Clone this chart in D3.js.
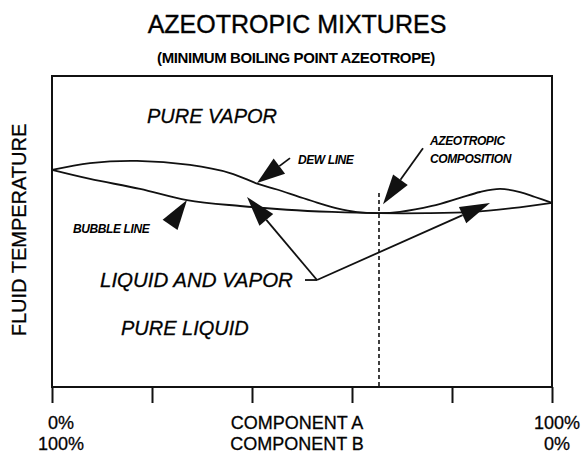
<!DOCTYPE html>
<html>
<head>
<meta charset="utf-8">
<script src="https://cdn.jsdelivr.net/npm/d3@7"></script>
<style>
  body { margin: 0; background: #fff; }
  svg { font-family: "Liberation Sans", Arial, Helvetica, sans-serif; }
</style>
</head>
<body>
<svg></svg>
<script>
let width = 585;
let height = 455;
let margin = {top: 76, right: 33, bottom: 68, left: 52};

// composition of component A (%) vs fluid temperature (arbitrary 0-100)
let dewX = [0, 7.6, 17, 27.6, 35.6, 41.2, 45, 49, 53, 57, 61, 65.4, 69.6, 76, 81.6, 85.6, 89.6, 93.6, 96.6, 100];
let dewT = [69.8, 72.0, 72.7, 71.4, 68.8, 65.3, 63.5, 61.4, 59.3, 57.4, 56.2, 55.9, 56.3, 58.2, 60.8, 62.7, 63.7, 62.7, 61.1, 59.2];
let bubbleX = [0, 7.6, 17.6, 27, 37.6, 47, 56, 65.4, 75, 84, 92, 100];
let bubbleT = [69.8, 66.9, 63.7, 60.1, 58.2, 57.0, 56.3, 55.9, 55.9, 56.3, 57.5, 59.2];
let azeotropeX = 65.4;
let azeotropeTop = 62.4;
let tickValues = [0, 20, 40, 60, 80, 100];

let svg = d3.select("svg")
            .attr("width", width)
            .attr("height", height);

let xScale = d3.scaleLinear()
               .domain([0, 100])
               .range([margin.left, width - margin.right]);

let yScale = d3.scaleLinear()
               .domain([0, 100])
               .range([height - margin.bottom, margin.top]);

// titles
svg.append("text")
   .attr("x", 297).attr("y", 33)
   .attr("text-anchor", "middle")
   .style("font-size", "25px")
   .attr("stroke", "#111").attr("stroke-width", 0.4)
   .text("AZEOTROPIC MIXTURES");

svg.append("text")
   .attr("x", 296).attr("y", 63)
   .attr("text-anchor", "middle")
   .style("font-size", "15px")
   .style("font-weight", "bold")
   .style("letter-spacing", "-0.4px")
   .text("(MINIMUM BOILING POINT AZEOTROPE)");

// frame
svg.append("rect")
   .attr("x", xScale(0)).attr("y", yScale(100))
   .attr("width", xScale(100) - xScale(0))
   .attr("height", yScale(0) - yScale(100))
   .attr("fill", "none")
   .attr("stroke", "#111")
   .attr("stroke-width", 2);

let xAxis = svg.append("g")
   .attr("transform", "translate(0," + yScale(0) + ")")
   .call(d3.axisBottom(xScale).tickValues(tickValues).tickSize(16).tickFormat(""));
xAxis.select(".domain").remove();
xAxis.selectAll("line").attr("stroke", "#111").attr("stroke-width", 2);

// curves
let line = d3.line()
             .x((d) => xScale(d[0]))
             .y((d) => yScale(d[1]))
             .curve(d3.curveCatmullRom.alpha(0.5));

svg.append("path")
   .datum(d3.zip(dewX, dewT))
   .attr("d", line)
   .attr("fill", "none")
   .attr("stroke", "#111")
   .attr("stroke-width", 1.8);

svg.append("path")
   .datum(d3.zip(bubbleX, bubbleT))
   .attr("d", line)
   .attr("fill", "none")
   .attr("stroke", "#111")
   .attr("stroke-width", 1.8);

svg.append("line")
   .attr("x1", xScale(azeotropeX)).attr("x2", xScale(azeotropeX))
   .attr("y1", yScale(azeotropeTop)).attr("y2", yScale(0))
   .attr("stroke", "#111")
   .attr("stroke-width", 1.6)
   .attr("stroke-dasharray", "4,3");

// arrows: [tailX, tailT, tipX, tipT, headLength, headWidth]
let arrows = [
  [47.6, 73.6, 41.0, 65.6, 28, 19],
  [23.6, 52.1, 27.0, 60.1, 30, 18],
  [74.2, 76.8, 66.2, 58.8, 30, 18],
  [53.0, 34.4, 39.0, 61.1, 30, 18],
  [53.0, 34.4, 87.6, 59.2, 30, 18]
];

arrows.forEach((a) => {
  let x0 = xScale(a[0]), y0 = yScale(a[1]);
  let x1 = xScale(a[2]), y1 = yScale(a[3]);
  let len = Math.hypot(x1 - x0, y1 - y0);
  let ux = (x1 - x0) / len, uy = (y1 - y0) / len;
  let bx = x1 - ux * a[4], by = y1 - uy * a[4];
  let nx = -uy * a[5] / 2, ny = ux * a[5] / 2;
  if (len > a[4] + 1) {
    svg.append("line")
       .attr("x1", x0).attr("y1", y0)
       .attr("x2", bx).attr("y2", by)
       .attr("stroke", "#111")
       .attr("stroke-width", 1.8);
  }
  svg.append("polygon")
     .attr("points", [[x1, y1], [bx + nx, by + ny], [bx - nx, by - ny]].join(" "))
     .attr("fill", "#111");
});

// short leader from the label
svg.append("line")
   .attr("x1", xScale(50.6)).attr("x2", xScale(53.0))
   .attr("y1", yScale(34.4)).attr("y2", yScale(34.4))
   .attr("stroke", "#111")
   .attr("stroke-width", 1.8);

// region labels: [text, x, t, size, weight]
let labels = [
  ["PURE VAPOR", 19, 84.9, 20, "normal"],
  ["LIQUID AND VAPOR", 9.6, 32.2, 20.5, "normal"],
  ["PURE LIQUID", 13.8, 16.7, 20, "normal"],
  ["DEW LINE", 49.2, 71.7, 12, "bold"],
  ["BUBBLE LINE", 4.2, 49.5, 12, "bold"],
  ["AZEOTROPIC", 75.6, 77.8, 12, "bold"],
  ["COMPOSITION", 75.6, 72.0, 12, "bold"]
];

svg.selectAll(".lbl")
   .data(labels)
   .enter()
   .append("text")
   .attr("class", "lbl")
   .attr("x", (d) => xScale(d[1]))
   .attr("y", (d) => yScale(d[2]))
   .style("font-size", (d) => d[3] + "px")
   .style("font-weight", (d) => d[4])
   .style("font-style", "italic")
   .style("letter-spacing", (d) => d[3] < 15 ? "-0.4px" : "0px")
   .attr("stroke", (d) => d[3] < 15 ? "none" : "#111")
   .attr("stroke-width", 0.3)
   .text((d) => d[0]);

// axis titles
svg.append("text")
   .attr("transform", "translate(26,230) rotate(-90)")
   .attr("text-anchor", "middle")
   .style("font-size", "20px")
   .attr("stroke", "#111").attr("stroke-width", 0.3)
   .text("FLUID TEMPERATURE");

let bottomLabels = [
  ["0%", "100%", 0, 9],
  ["COMPONENT A", "COMPONENT B", 49, 0],
  ["100%", "0%", 100, 5]
];

bottomLabels.forEach((b) => {
  let t = svg.append("text")
     .attr("text-anchor", "middle")
     .style("font-size", "18px")
     .attr("stroke", "#111").attr("stroke-width", 0.3);
  t.append("tspan").attr("x", xScale(b[2]) + b[3]).attr("y", 429).text(b[0]);
  t.append("tspan").attr("x", xScale(b[2]) + b[3]).attr("y", 450).text(b[1]);
});
</script>
</body>
</html>
